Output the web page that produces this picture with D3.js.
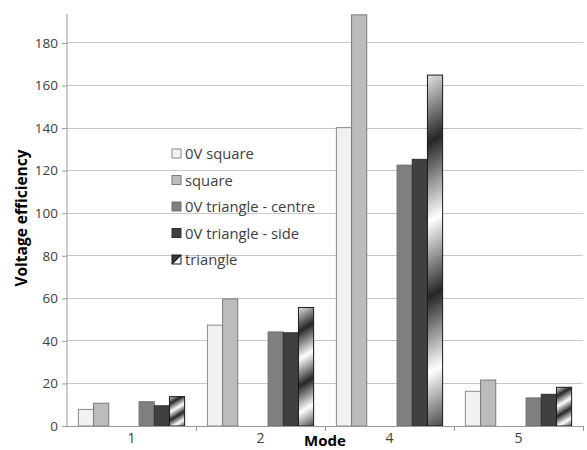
<!DOCTYPE html>
<html>
<head>
<meta charset="utf-8">
<script src="https://cdn.jsdelivr.net/npm/d3@7"></script>
<style>
  html, body { margin: 0; padding: 0; background: #fff; }
  svg { display: block; font-family: "Open Sans", "Noto Sans", sans-serif; }
</style>
</head>
<body>
<svg id="chart" width="587" height="450"></svg>
<script>
// Voltage efficiency per mode, one array per excitation series
const modes = ["1", "2", "4", "5"];
const seriesNames = ["0V square", "square", "0V triangle - centre", "0V triangle - side", "triangle"];
const ovSquare = [7.8, 47.4, 140.2, 16.3];
const square = [10.7, 59.7, 193.2, 21.6];
const ovTriangleCentre = [11.4, 44.2, 122.6, 13.2];
const ovTriangleSide = [9.5, 43.8, 125.3, 14.9];
const triangle = [13.8, 55.7, 164.9, 18.2];
const yTicks = [0, 20, 40, 60, 80, 100, 120, 140, 160, 180];

const seriesValues = [ovSquare, square, ovTriangleCentre, ovTriangleSide, triangle];

// Styling per series
const fills = ["#f1f1f1", "#bcbcbc", "#7f7f7f", "#404040", "gradient"];
const strokes = ["#8a8a8a", "#7a7a7a", "#6e6e6e", "#303030", "#1a1a1a"];

// Clusters keep two empty slots between the square and triangle groups
const slots = [seriesNames[0], seriesNames[1], "__spacer1", "__spacer2", seriesNames[2], seriesNames[3], seriesNames[4]];

const svg = d3.select("#chart");
const margin = { left: 67, right: 4, top: 14, bottom: 24 };
const W = 587, H = 450;

const x0 = d3.scaleBand().domain(modes).range([margin.left, W - margin.right]).paddingInner(0).paddingOuter(0);
const x1 = d3.scaleBand().domain(slots).range([0, x0.bandwidth()]).paddingInner(0).paddingOuter(0.75);
const y = d3.scaleLinear().domain([0, 193.6]).range([H - margin.bottom, margin.top]);

const defs = svg.append("defs");
const gradStops = [
  [0.00, "#e2e2e2"], [0.19, "#262626"], [0.41, "#ffffff"],
  [0.62, "#262626"], [0.83, "#ffffff"], [1.00, "#4a4a4a"]
];
// Diagonal banded gradient fitted to each bar's box
function bandGradient(id, bx, by, bw, bh) {
  const s = 0.6; // slope of the bands
  const n = Math.hypot(s, 1);
  const ext = (s * bw + bh) / n;
  const g = defs.append("linearGradient")
    .attr("id", id)
    .attr("gradientUnits", "userSpaceOnUse")
    .attr("x1", bx).attr("y1", by)
    .attr("x2", bx + (s / n) * ext).attr("y2", by + (1 / n) * ext);
  gradStops.forEach(([o, c]) => g.append("stop").attr("offset", o).attr("stop-color", c));
  return `url(#${id})`;
}

// Legend swatch for the gradient series: split along the diagonal
const swatch = defs.append("linearGradient")
  .attr("id", "tri-swatch")
  .attr("x1", 0).attr("y1", 0).attr("x2", 1).attr("y2", 1);
[[0, "#3a3a3a"], [0.42, "#3a3a3a"], [0.5, "#1a1a1a"], [0.58, "#f4f4f4"], [1, "#ffffff"]]
  .forEach(([o, c]) => swatch.append("stop").attr("offset", o).attr("stop-color", c));

// Gridlines
svg.append("g")
  .selectAll("line")
  .data(yTicks.filter(d => d > 0))
  .join("line")
  .attr("x1", margin.left).attr("x2", W - margin.right)
  .attr("y1", d => y(d)).attr("y2", d => y(d))
  .attr("stroke", "#c6c6c6").attr("stroke-width", 1).attr("shape-rendering", "crispEdges");

// Y axis
const yAxis = svg.append("g")
  .attr("transform", `translate(${margin.left},0)`)
  .call(d3.axisLeft(y).tickValues(yTicks).tickSize(5).tickPadding(4).tickSizeOuter(0));
yAxis.select(".domain").attr("stroke", "#9a9a9a").attr("d", `M0,${y(0)}V${margin.top}`);
yAxis.selectAll(".tick line").attr("stroke", "#9a9a9a");
yAxis.selectAll(".tick text").attr("fill", "#404040").style("font-size", "13.5px").style("font-family", "'Open Sans', sans-serif");

// Bars
seriesNames.forEach((name, si) => {
  const vals = seriesValues[si];
  svg.append("g")
    .selectAll("rect")
    .data(modes.map((m, i) => ({ m, v: vals[i], i })))
    .join("rect")
    .attr("x", d => x0(d.m) + x1(name))
    .attr("y", d => y(d.v))
    .attr("width", x1.bandwidth())
    .attr("height", d => y(0) - y(d.v))
    .attr("fill", d => fills[si] === "gradient"
      ? bandGradient(`tri-${d.i}`, x0(d.m) + x1(name), y(d.v), x1.bandwidth(), y(0) - y(d.v))
      : fills[si])
    .attr("stroke", strokes[si])
    .attr("stroke-width", 1);
});

// X axis
const xAxisG = svg.append("g").attr("transform", `translate(0,${y(0)})`);
xAxisG.append("line")
  .attr("x1", margin.left).attr("x2", W - margin.right)
  .attr("stroke", "#9a9a9a").attr("shape-rendering", "crispEdges");
const boundaries = modes.map(m => x0(m) + x0.bandwidth());
xAxisG.selectAll("line.tk")
  .data(boundaries)
  .join("line")
  .attr("class", "tk")
  .attr("x1", d => d).attr("x2", d => d)
  .attr("y1", 0).attr("y2", 5)
  .attr("stroke", "#9a9a9a").attr("shape-rendering", "crispEdges");
xAxisG.selectAll("text")
  .data(modes)
  .join("text")
  .attr("x", d => x0(d) + x0.bandwidth() / 2)
  .attr("y", 17)
  .attr("text-anchor", "middle")
  .attr("fill", "#404040")
  .style("font-size", "14px")
  .text(d => d);

// Axis titles
svg.append("text")
  .attr("x", (margin.left + W - margin.right) / 2)
  .attr("y", 446)
  .attr("text-anchor", "middle")
  .attr("fill", "#000")
  .style("font-size", "15px")
  .style("font-weight", "bold")
  .text("Mode");
svg.append("text")
  .attr("transform", `translate(27,218) rotate(-90)`)
  .attr("text-anchor", "middle")
  .attr("fill", "#000")
  .style("font-size", "15.5px")
  .style("font-weight", "bold")
  .text("Voltage efficiency");

// Legend
const legend = svg.append("g").attr("transform", "translate(172,149)");
seriesNames.forEach((name, si) => {
  const row = legend.append("g").attr("transform", `translate(0,${si * 26.5})`);
  row.append("rect")
    .attr("x", 0).attr("y", 0).attr("width", 9).attr("height", 9)
    .attr("fill", fills[si] === "gradient" ? "url(#tri-swatch)" : fills[si])
    .attr("stroke", strokes[si]).attr("stroke-width", 1);
  row.append("text")
    .attr("x", 13).attr("y", 10)
    .attr("fill", "#404040")
    .style("font-size", "14.8px")
    .text(name);
});
</script>
</body>
</html>
